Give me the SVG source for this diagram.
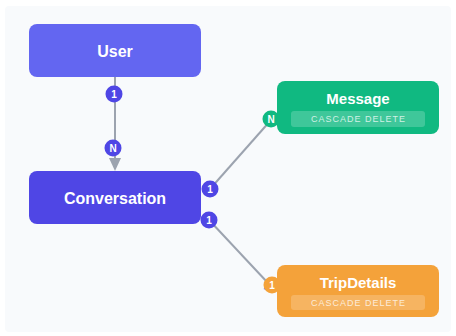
<svg xmlns="http://www.w3.org/2000/svg" width="456" height="336" viewBox="0 0 456 336">
<style>
.title{font-family:"Liberation Sans",Arial,sans-serif;font-weight:bold;fill:#fff;text-anchor:middle}
.badge{fill:#fff;fill-opacity:0.2}
.btxt{font-family:"Liberation Sans",Arial,sans-serif;font-size:9px;fill:#fff;fill-opacity:0.75;text-anchor:middle;letter-spacing:1px}
.edge{stroke:#9ca3af;stroke-width:2;fill:none}
.ctxt{font-family:"Liberation Sans",Arial,sans-serif;font-size:10px;font-weight:bold;fill:#fff;text-anchor:middle}
</style>
<rect x="0" y="0" width="456" height="336" fill="#ffffff"/>
<rect x="5" y="6" width="446" height="326" rx="4" fill="#f8fafc"/>
<g id="connectors">
  <g id="edge-user-conversation">
    <line class="edge" x1="115" y1="77" x2="115" y2="160"/>
    <polygon points="109,158 121,158 115,171" fill="#9ca3af"/>
    <circle cx="114" cy="94" r="8.5" fill="#4f46e5"/>
    <text class="ctxt" x="114" y="97.6">1</text>
    <circle cx="113" cy="148" r="8.5" fill="#4f46e5"/>
    <text class="ctxt" x="113" y="151.6">N</text>
  </g>
  <g id="edge-conversation-message">
    <line class="edge" x1="210" y1="189" x2="271" y2="120"/>
    <circle cx="210" cy="189" r="8.5" fill="#4f46e5"/>
    <text class="ctxt" x="210" y="192.6">1</text>
    <circle cx="271" cy="119" r="8.5" fill="#10b981"/>
    <text class="ctxt" x="271" y="122.6">N</text>
  </g>
  <g id="edge-conversation-tripdetails">
    <line class="edge" x1="209" y1="220" x2="268" y2="283"/>
    <polygon points="274,293 263.5,289.1 270.9,282.3" fill="#6366f1"/>
    <circle cx="209" cy="220" r="8.5" fill="#4f46e5"/>
    <text class="ctxt" x="209" y="223.6">1</text>
    <circle cx="272" cy="285" r="8.5" fill="#f4a23a"/>
    <text class="ctxt" x="272" y="288.6">1</text>
  </g>
</g>
<g id="node-user">
  <rect x="29" y="24" width="172" height="53" rx="8" fill="#6366f1"/>
  <text class="title" x="115" y="56.5" font-size="16">User</text>
</g>
<g id="node-conversation">
  <rect x="29" y="171" width="172" height="53" rx="8" fill="#4f46e5"/>
  <text class="title" x="115" y="203.5" font-size="16">Conversation</text>
</g>
<g id="node-message">
  <rect x="277" y="81" width="162" height="53" rx="8" fill="#10b981"/>
  <text class="title" x="358" y="103.5" font-size="15">Message</text>
  <rect class="badge" x="291" y="111" width="134" height="16" rx="3"/>
  <text class="btxt" x="358.5" y="122.2">CASCADE DELETE</text>
</g>
<g id="node-tripdetails">
  <rect x="277" y="265" width="162" height="52" rx="8" fill="#f4a23a"/>
  <text class="title" x="358" y="287.5" font-size="15">TripDetails</text>
  <rect class="badge" x="291" y="295" width="134" height="15" rx="3"/>
  <text class="btxt" x="358.5" y="305.7">CASCADE DELETE</text>
</g>
</svg>
